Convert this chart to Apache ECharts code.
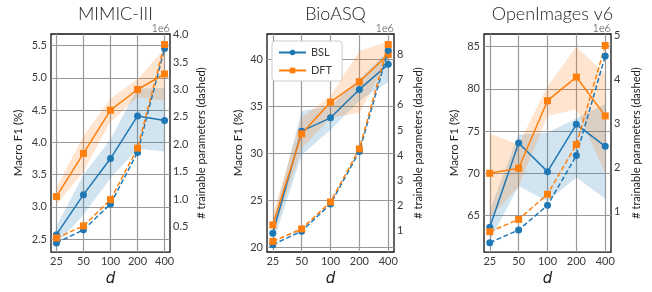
<!DOCTYPE html>
<html>
<head>
<meta charset="utf-8">
<script src="https://cdn.jsdelivr.net/npm/echarts@6/dist/echarts.min.js"></script>
<style>
  html, body { margin: 0; padding: 0; background: #fff; }
  #chart { width: 652px; height: 292px; }
</style>
</head>
<body>
<div id="chart"></div>
<script>
// x values (d), shared by all panels; plotted evenly spaced (log2 steps)
const dims = [25, 50, 100, 200, 400];
const panelTitles = ['MIMIC-III', 'BioASQ', 'OpenImages v6'];

// MIMIC-III
const mimicBslF1 = [2.57, 3.19, 3.75, 4.41, 4.34];
const mimicDftF1 = [3.16, 3.83, 4.50, 4.82, 5.06];
const mimicBslLo = [2.42, 2.88, 3.45, 3.90, 3.86];
const mimicBslHi = [2.70, 3.50, 4.05, 4.84, 4.84];
const mimicDftLo = [3.03, 3.55, 4.32, 4.70, 4.65];
const mimicDftHi = [3.30, 4.10, 4.68, 4.98, 5.45];
const mimicBslParams = [0.20, 0.44, 0.91, 1.85, 3.75];
const mimicDftParams = [0.29, 0.51, 0.99, 1.93, 3.82];

// BioASQ
const bioBslF1 = [21.5, 32.36, 33.78, 36.8, 39.47];
const bioDftF1 = [22.38, 32.08, 35.45, 37.62, 40.53];
const bioBslLo = [20.4, 29.8, 32.5, 35.6, 37.6];
const bioBslHi = [22.6, 34.5, 35.0, 37.9, 40.9];
const bioDftLo = [21.3, 30.5, 33.8, 34.3, 40.0];
const bioDftHi = [23.5, 33.8, 36.1, 40.9, 41.9];
const bioBslParams = [0.44, 0.98, 2.06, 4.15, 8.17];
const bioDftParams = [0.57, 1.07, 2.14, 4.25, 8.40];

// OpenImages v6
const oiBslF1 = [63.6, 73.6, 70.2, 75.8, 73.2];
const oiDftF1 = [70.0, 70.6, 78.6, 81.4, 76.8];
const oiBslLo = [62.0, 68.5, 66.7, 69.5, 67.0];
const oiBslHi = [65.6, 74.6, 74.8, 76.5, 78.2];
const oiDftLo = [64.7, 68.4, 76.8, 77.6, 70.0];
const oiDftHi = [74.7, 73.4, 80.3, 85.0, 81.8];
const oiBslParams = [0.30, 0.59, 1.15, 2.28, 4.54];
const oiDftParams = [0.55, 0.83, 1.40, 2.53, 4.78];

// tick labels
const xTicks = [0, 1, 2, 3, 4];
const f1Ticks = [[2.5, 3.0, 3.5, 4.0, 4.5, 5.0, 5.5], [20, 25, 30, 35, 40], [65, 70, 75, 80, 85]];
const paramTicks = [[0.5, 1.0, 1.5, 2.0, 2.5, 3.0, 3.5, 4.0], [1, 2, 3, 4, 5, 6, 7, 8], [1, 2, 3, 4, 5]];

const panels = [
  { bsl: mimicBslF1, dft: mimicDftF1, bslLo: mimicBslLo, bslHi: mimicBslHi, dftLo: mimicDftLo, dftHi: mimicDftHi, bslP: mimicBslParams, dftP: mimicDftParams },
  { bsl: bioBslF1, dft: bioDftF1, bslLo: bioBslLo, bslHi: bioBslHi, dftLo: bioDftLo, dftHi: bioDftHi, bslP: bioBslParams, dftP: bioDftParams },
  { bsl: oiBslF1, dft: oiDftF1, bslLo: oiBslLo, bslHi: oiBslHi, dftLo: oiDftLo, dftHi: oiDftHi, bslP: oiBslParams, dftP: oiDftParams }
];

// layout
const grids = [
  { left: 51, top: 34, width: 119, height: 222 },
  { left: 267, top: 34, width: 127, height: 218 },
  { left: 484, top: 34, width: 127, height: 221 }
];
const leftRange = [[2.3, 5.68], [19.5, 42.7], [60.67, 86.5]];
const rightRange = [[0.033, 4.013], [0.15, 8.82], [0.087, 5.04]];
const leftGap = [27, 23, 24];
const rightGap = [26, 19, 20];

const BLUE = '#1f77b4';
const ORANGE = '#ff7f0e';
const FONT = 'Lato';
const TXT = '#3a3a3a';

const pairs = arr => arr.map((v, j) => [j, v]);

let option = {
  animation: false,
  backgroundColor: '#fff',
  title: [],
  grid: [],
  xAxis: [],
  yAxis: [],
  series: [],
  graphic: [],
  legend: {
    data: ['BSL', 'DFT'],
    orient: 'vertical',
    left: 272, top: 41,
    itemWidth: 27, itemHeight: 7, itemGap: 7,
    padding: [6, 10, 5, 6],
    backgroundColor: '#fff',
    borderColor: '#ccc', borderWidth: 1, borderRadius: 3,
    textStyle: { fontFamily: FONT, fontSize: 11, color: TXT }
  }
};

panels.forEach((p, i) => {
  const g = grids[i];
  option.grid.push(Object.assign({ show: true, borderColor: '#111', borderWidth: 1.3, containLabel: false }, g));
  option.title.push({
    text: panelTitles[i],
    left: g.left + g.width / 2, top: 0, textAlign: 'center',
    textStyle: { fontFamily: FONT, fontWeight: 300, fontSize: 18, color: '#222' }
  });
  option.graphic.push({
    type: 'text', right: 652 - (g.left + g.width), top: 23,
    style: { text: '1e6', font: '300 11px ' + FONT, fill: TXT }
  });

  option.xAxis.push({
    type: 'value', gridIndex: i,
    min: -0.2, max: 4.2,
    name: 'd', nameLocation: 'middle', nameGap: 19,
    nameTextStyle: { fontFamily: 'DejaVu Sans', fontStyle: 'italic', fontSize: 15, color: '#222' },
    axisLine: { show: false },
    axisTick: { show: false, customValues: xTicks },
    axisLabel: { customValues: xTicks, margin: 4, fontFamily: FONT, fontSize: 11, color: TXT,
      formatter: v => String(dims[Math.round(v)]) },
    splitLine: { show: true, lineStyle: { color: '#999', width: 1.2 } }
  });

  const fmt = i === 0 ? (v => v.toFixed(1)) : (v => String(v));
  option.yAxis.push({
    type: 'value', gridIndex: i, position: 'left',
    min: leftRange[i][0], max: leftRange[i][1],
    name: 'Macro F1 (%)', nameLocation: 'middle', nameRotate: 90, nameGap: leftGap[i],
    nameTextStyle: { fontFamily: FONT, fontSize: 11.5, color: '#222' },
    axisLine: { show: false },
    axisTick: { show: false, customValues: f1Ticks[i] },
    axisLabel: { customValues: f1Ticks[i], margin: 4, fontFamily: FONT, fontSize: 11, color: TXT, formatter: fmt },
    splitLine: { show: true, lineStyle: { color: '#999', width: 1.2 } }
  });
  option.yAxis.push({
    type: 'value', gridIndex: i, position: 'right',
    min: rightRange[i][0], max: rightRange[i][1],
    name: '# trainable parameters (dashed)', nameLocation: 'middle', nameRotate: 90, nameGap: rightGap[i],
    nameTextStyle: { fontFamily: FONT, fontSize: 11, color: '#222' },
    axisLine: { show: false },
    axisTick: { show: false, customValues: paramTicks[i] },
    axisLabel: { customValues: paramTicks[i], margin: 3, fontFamily: FONT, fontSize: 11, color: TXT, formatter: fmt },
    splitLine: { show: false }
  });

  const yL = i * 2, yR = i * 2 + 1;
  // shaded band drawn as one polygon through the axis scales
  const band = (lo, hi, color) => ({
    type: 'custom', xAxisIndex: i, yAxisIndex: yL, silent: true, z: 1,
    data: lo.map((v, j) => [j, v, hi[j]]),
    encode: { x: 0, y: [1, 2] },
    renderItem: (params, api) => {
      if (params.dataIndex !== 0) return null;
      const top = hi.map((v, j) => api.coord([j, v]));
      const bot = lo.map((v, j) => api.coord([j, v])).reverse();
      return { type: 'polygon', shape: { points: top.concat(bot) }, style: { fill: color } };
    }
  });
  option.series.push(band(p.bslLo, p.bslHi, 'rgba(31,119,180,0.2)'));
  option.series.push(band(p.dftLo, p.dftHi, 'rgba(255,127,14,0.2)'));

  const solid = (name, data, color, sym) => ({
    type: 'line', name: name, xAxisIndex: i, yAxisIndex: yL, data: pairs(data),
    symbol: sym, symbolSize: 7, color: color,
    itemStyle: { color: color }, lineStyle: { color: color, width: 1.5 }, z: 3
  });
  const dashed = (name, data, color, sym) => ({
    type: 'line', name: name, xAxisIndex: i, yAxisIndex: yR, data: pairs(data),
    symbol: sym, symbolSize: 7, color: color,
    itemStyle: { color: color }, lineStyle: { color: color, width: 1.5, type: [5, 2.5] }, z: 4
  });
  option.series.push(solid('BSL', p.bsl, BLUE, 'circle'));
  option.series.push(solid('DFT', p.dft, ORANGE, 'rect'));
  option.series.push(dashed('BSL params', p.bslP, BLUE, 'circle'));
  option.series.push(dashed('DFT params', p.dftP, ORANGE, 'rect'));
});

const chart = echarts.init(document.getElementById('chart'), null, { renderer: 'canvas' });
chart.setOption(option);
</script>
</body>
</html>
